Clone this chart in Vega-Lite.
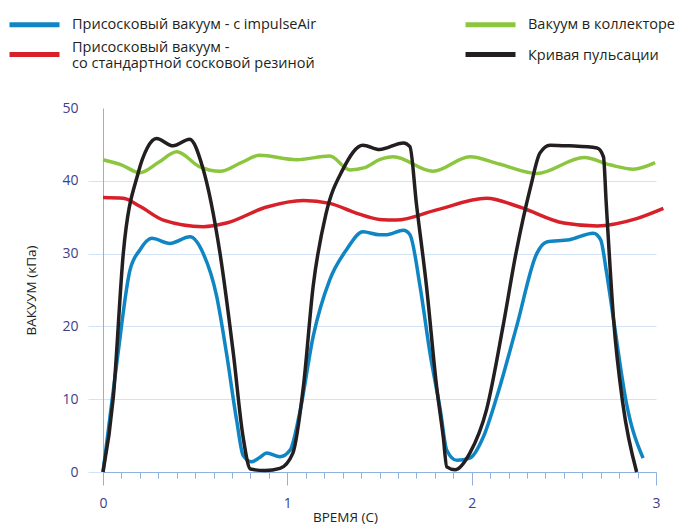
{
  "$schema": "https://vega.github.io/schema/vega-lite/v6.json",
  "autosize": {"type": "none"},
  "width": 553,
  "height": 364,
  "padding": {"left": 103, "top": 108, "right": 29, "bottom": 54},
  "background": "white",
  "config": {
    "view": {"stroke": null},
    "font": "Open Sans"
  },
  "data": {
    "values": [
      {"series": "Вакуум в коллекторе", "t": 0, "v": 42.9},
      {"series": "Вакуум в коллекторе", "t": 0.1, "v": 42.2},
      {"series": "Вакуум в коллекторе", "t": 0.2, "v": 41.1},
      {"series": "Вакуум в коллекторе", "t": 0.3, "v": 42.5},
      {"series": "Вакуум в коллекторе", "t": 0.4, "v": 44.0},
      {"series": "Вакуум в коллекторе", "t": 0.526, "v": 41.9},
      {"series": "Вакуум в коллекторе", "t": 0.635, "v": 41.3},
      {"series": "Вакуум в коллекторе", "t": 0.75, "v": 42.5},
      {"series": "Вакуум в коллекторе", "t": 0.85, "v": 43.5},
      {"series": "Вакуум в коллекторе", "t": 1.05, "v": 42.9},
      {"series": "Вакуум в коллекторе", "t": 1.23, "v": 43.4},
      {"series": "Вакуум в коллекторе", "t": 1.34, "v": 41.5},
      {"series": "Вакуум в коллекторе", "t": 1.42, "v": 41.8},
      {"series": "Вакуум в коллекторе", "t": 1.5, "v": 42.9},
      {"series": "Вакуум в коллекторе", "t": 1.575, "v": 43.3},
      {"series": "Вакуум в коллекторе", "t": 1.79, "v": 41.3},
      {"series": "Вакуум в коллекторе", "t": 1.99, "v": 43.3},
      {"series": "Вакуум в коллекторе", "t": 2.15, "v": 42.3},
      {"series": "Вакуум в коллекторе", "t": 2.353, "v": 41.0},
      {"series": "Вакуум в коллекторе", "t": 2.61, "v": 43.2},
      {"series": "Вакуум в коллекторе", "t": 2.75, "v": 42.2},
      {"series": "Вакуум в коллекторе", "t": 2.877, "v": 41.6},
      {"series": "Вакуум в коллекторе", "t": 2.995, "v": 42.5},

      {"series": "Присосковый вакуум - со стандартной сосковой резиной", "t": 0, "v": 37.7},
      {"series": "Присосковый вакуум - со стандартной сосковой резиной", "t": 0.11, "v": 37.6},
      {"series": "Присосковый вакуум - со стандартной сосковой резиной", "t": 0.2, "v": 36.5},
      {"series": "Присосковый вакуум - со стандартной сосковой резиной", "t": 0.327, "v": 34.6},
      {"series": "Присосковый вакуум - со стандартной сосковой резиной", "t": 0.544, "v": 33.7},
      {"series": "Присосковый вакуум - со стандартной сосковой резиной", "t": 0.67, "v": 34.2},
      {"series": "Присосковый вакуум - со стандартной сосковой резиной", "t": 0.888, "v": 36.4},
      {"series": "Присосковый вакуум - со стандартной сосковой резиной", "t": 1.087, "v": 37.3},
      {"series": "Присосковый вакуум - со стандартной сосковой резиной", "t": 1.23, "v": 36.9},
      {"series": "Присосковый вакуум - со стандартной сосковой резиной", "t": 1.37, "v": 35.6},
      {"series": "Присосковый вакуум - со стандартной сосковой резиной", "t": 1.5, "v": 34.7},
      {"series": "Присосковый вакуум - со стандартной сосковой резиной", "t": 1.59, "v": 34.6},
      {"series": "Присосковый вакуум - со стандартной сосковой резиной", "t": 1.81, "v": 36.0},
      {"series": "Присосковый вакуум - со стандартной сосковой резиной", "t": 2.08, "v": 37.6},
      {"series": "Присосковый вакуум - со стандартной сосковой резиной", "t": 2.26, "v": 36.4},
      {"series": "Присосковый вакуум - со стандартной сосковой резиной", "t": 2.5, "v": 34.2},
      {"series": "Присосковый вакуум - со стандартной сосковой резиной", "t": 2.68, "v": 33.8},
      {"series": "Присосковый вакуум - со стандартной сосковой резиной", "t": 2.895, "v": 34.8},
      {"series": "Присосковый вакуум - со стандартной сосковой резиной", "t": 3.04, "v": 36.2},

      {"series": "Присосковый вакуум - с impulseAir", "t": 0, "v": 0},
      {"series": "Присосковый вакуум - с impulseAir", "t": 0.04, "v": 8},
      {"series": "Присосковый вакуум - с impulseAir", "t": 0.08, "v": 16},
      {"series": "Присосковый вакуум - с impulseAir", "t": 0.146, "v": 27.7},
      {"series": "Присосковый вакуум - с impulseAir", "t": 0.2, "v": 30.5},
      {"series": "Присосковый вакуум - с impulseAir", "t": 0.264, "v": 32.1},
      {"series": "Присосковый вакуум - с impulseAir", "t": 0.363, "v": 31.4},
      {"series": "Присосковый вакуум - с impulseAir", "t": 0.472, "v": 32.3},
      {"series": "Присосковый вакуум - с impulseAir", "t": 0.544, "v": 30},
      {"series": "Присосковый вакуум - с impulseAir", "t": 0.617, "v": 24.1},
      {"series": "Присосковый вакуум - с impulseAir", "t": 0.67, "v": 16.3},
      {"series": "Присосковый вакуум - с impulseAir", "t": 0.725, "v": 7.1},
      {"series": "Присосковый вакуум - с impulseAir", "t": 0.76, "v": 2.3},
      {"series": "Присосковый вакуум - с impulseAir", "t": 0.806, "v": 1.4},
      {"series": "Присосковый вакуум - с impulseAir", "t": 0.85, "v": 2.0},
      {"series": "Присосковый вакуум - с impulseAir", "t": 0.888, "v": 2.6},
      {"series": "Присосковый вакуум - с impulseAir", "t": 0.96, "v": 2.1},
      {"series": "Присосковый вакуум - с impulseAir", "t": 1.015, "v": 3.0},
      {"series": "Присосковый вакуум - с impulseAir", "t": 1.07, "v": 8.5},
      {"series": "Присосковый вакуум - с impulseAir", "t": 1.14, "v": 18.6},
      {"series": "Присосковый вакуум - с impulseAir", "t": 1.23, "v": 26.4},
      {"series": "Присосковый вакуум - с impulseAir", "t": 1.32, "v": 30.5},
      {"series": "Присосковый вакуум - с impulseAir", "t": 1.41, "v": 33.0},
      {"series": "Присосковый вакуум - с impulseAir", "t": 1.5, "v": 32.6},
      {"series": "Присосковый вакуум - с impulseAir", "t": 1.54, "v": 32.6},
      {"series": "Присосковый вакуум - с impulseAir", "t": 1.63, "v": 33.2},
      {"series": "Присосковый вакуум - с impulseAir", "t": 1.665, "v": 32.6},
      {"series": "Присосковый вакуум - с impulseAir", "t": 1.72, "v": 25.5},
      {"series": "Присосковый вакуум - с impulseAir", "t": 1.774, "v": 16.3},
      {"series": "Присосковый вакуум - с impulseAir", "t": 1.83, "v": 8.5},
      {"series": "Присосковый вакуум - с impulseAir", "t": 1.865, "v": 3.0},
      {"series": "Присосковый вакуум - с impulseAir", "t": 1.92, "v": 1.6},
      {"series": "Присосковый вакуум - с impulseAir", "t": 1.99, "v": 1.9},
      {"series": "Присосковый вакуум - с impulseAir", "t": 2.063, "v": 4.8},
      {"series": "Присосковый вакуум - с impulseAir", "t": 2.136, "v": 10.3},
      {"series": "Присосковый вакуум - с impulseAir", "t": 2.244, "v": 20},
      {"series": "Присосковый вакуум - с impulseAir", "t": 2.353, "v": 30},
      {"series": "Присосковый вакуум - с impulseAir", "t": 2.407, "v": 31.6},
      {"series": "Присосковый вакуум - с impulseAir", "t": 2.53, "v": 31.9},
      {"series": "Присосковый вакуум - с impulseAir", "t": 2.66, "v": 32.8},
      {"series": "Присосковый вакуум - с impulseAir", "t": 2.7, "v": 31.9},
      {"series": "Присосковый вакуум - с impulseAir", "t": 2.73, "v": 27.7},
      {"series": "Присосковый вакуум - с impulseAir", "t": 2.77, "v": 20.9},
      {"series": "Присосковый вакуум - с impulseAir", "t": 2.84, "v": 9.4},
      {"series": "Присосковый вакуум - с impulseAir", "t": 2.93, "v": 1.9},

      {"series": "Кривая пульсации", "t": 0, "v": 0},
      {"series": "Кривая пульсации", "t": 0.056, "v": 10.3},
      {"series": "Кривая пульсации", "t": 0.11, "v": 30},
      {"series": "Кривая пульсации", "t": 0.19, "v": 41},
      {"series": "Кривая пульсации", "t": 0.24, "v": 44.5},
      {"series": "Кривая пульсации", "t": 0.29, "v": 45.8},
      {"series": "Кривая пульсации", "t": 0.38, "v": 44.8},
      {"series": "Кривая пульсации", "t": 0.47, "v": 45.7},
      {"series": "Кривая пульсации", "t": 0.54, "v": 41.9},
      {"series": "Кривая пульсации", "t": 0.635, "v": 30},
      {"series": "Кривая пульсации", "t": 0.707, "v": 16.3},
      {"series": "Кривая пульсации", "t": 0.76, "v": 4.8},
      {"series": "Кривая пульсации", "t": 0.8, "v": 0.4},
      {"series": "Кривая пульсации", "t": 0.88, "v": 0.2},
      {"series": "Кривая пульсации", "t": 0.96, "v": 0.5},
      {"series": "Кривая пульсации", "t": 1.03, "v": 2.6},
      {"series": "Кривая пульсации", "t": 1.087, "v": 11.7},
      {"series": "Кривая пульсации", "t": 1.14, "v": 25.5},
      {"series": "Кривая пульсации", "t": 1.21, "v": 35.5},
      {"series": "Кривая пульсации", "t": 1.3, "v": 41.5},
      {"series": "Кривая пульсации", "t": 1.41, "v": 44.9},
      {"series": "Кривая пульсации", "t": 1.5, "v": 44.3},
      {"series": "Кривая пульсации", "t": 1.63, "v": 45.2},
      {"series": "Кривая пульсации", "t": 1.665, "v": 44.7},
      {"series": "Кривая пульсации", "t": 1.7, "v": 36.9},
      {"series": "Кривая пульсации", "t": 1.755, "v": 25.5},
      {"series": "Кривая пульсации", "t": 1.81, "v": 11.7},
      {"series": "Кривая пульсации", "t": 1.846, "v": 4.8},
      {"series": "Кривая пульсации", "t": 1.865, "v": 0.7},
      {"series": "Кривая пульсации", "t": 1.91, "v": 0.3},
      {"series": "Кривая пульсации", "t": 1.99, "v": 2.6},
      {"series": "Кривая пульсации", "t": 2.08, "v": 8.5},
      {"series": "Кривая пульсации", "t": 2.17, "v": 20},
      {"series": "Кривая пульсации", "t": 2.24, "v": 30},
      {"series": "Кривая пульсации", "t": 2.32, "v": 39.2},
      {"series": "Кривая пульсации", "t": 2.37, "v": 43.8},
      {"series": "Кривая пульсации", "t": 2.425, "v": 44.9},
      {"series": "Кривая пульсации", "t": 2.53, "v": 44.8},
      {"series": "Кривая пульсации", "t": 2.68, "v": 44.5},
      {"series": "Кривая пульсации", "t": 2.715, "v": 43.3},
      {"series": "Кривая пульсации", "t": 2.73, "v": 36.9},
      {"series": "Кривая пульсации", "t": 2.77, "v": 20.9},
      {"series": "Кривая пульсации", "t": 2.82, "v": 9.4},
      {"series": "Кривая пульсации", "t": 2.895, "v": 0}
    ]
  },
  "mark": {"type": "line", "interpolate": "monotone", "strokeWidth": 3.5, "clip": false},
  "encoding": {
    "x": {
      "field": "t", "type": "quantitative",
      "scale": {"domain": [0, 3], "nice": false},
      "axis": {
        "values": [0,0.1,0.2,0.3,0.4,0.5,0.6,0.7,0.8,0.9,1,1.1,1.2,1.3,1.4,1.5,1.6,1.7,1.8,1.9,2,2.1,2.2,2.3,2.4,2.5,2.6,2.7,2.8,2.9,3],
        "labelExpr": "abs(datum.value - round(datum.value)) < 0.001 ? format(datum.value, 'd') : ''",
        "labelOverlap": false,
        "labelFlush": false,
        "tickSize": {"condition": {"test": "abs(datum.value - round(datum.value)) < 0.001", "value": 13}, "value": 6},
        "tickColor": "#8fb1e0",
        "domainColor": "#8fb1e0",
        "grid": false,
        "labelColor": "#3c3e8e",
        "labelFontSize": 14,
        "labelPadding": 11,
        "title": "ВРЕМЯ (С)",
        "titleFontSize": 13.5,
        "titleFontWeight": "normal",
        "titleColor": "#231f20",
        "titleX": 242,
        "titlePadding": 0
      }
    },
    "y": {
      "field": "v", "type": "quantitative",
      "scale": {"domain": [0, 50], "nice": false},
      "axis": {
        "values": [0, 10, 20, 30, 40, 50],
        "grid": true,
        "gridColor": "#d3e2f4",
        "gridOpacity": {"condition": {"test": "datum.value == 50", "value": 0}, "value": 1},
        "tickColor": "#d3e2f4",
        "tickOpacity": {"condition": {"test": "datum.value == 50", "value": 0}, "value": 1},
        "tickSize": 15,
        "domainColor": "#8fb1e0",
        "labelColor": "#3c3e8e",
        "labelFontSize": 14,
        "labelPadding": 10,
        "title": "ВАКУУМ (кПа)",
        "titleFontSize": 13.5,
        "titleFontWeight": "normal",
        "titleColor": "#231f20",
        "titlePadding": 23
      }
    },
    "color": {
      "field": "series", "type": "nominal",
      "scale": {
        "domain": ["Присосковый вакуум - с impulseAir", "Присосковый вакуум - со стандартной сосковой резиной", "Вакуум в коллекторе", "Кривая пульсации"],
        "range": ["#0f86c3", "#d7202a", "#8cc63f", "#231f20"]
      },
      "legend": {
        "orient": "none",
        "legendX": -96,
        "legendY": -111,
        "direction": "vertical",
        "columns": 2,
        "columnPadding": 138,
        "rowPadding": 0,
        "title": null,
        "symbolType": "stroke",
        "symbolSize": 2500,
        "symbolStrokeWidth": 5,
        "labelFontSize": 14.5,
        "labelColor": "#231f20",
        "labelOffset": 10,
        "labelLimit": 400,
        "labelExpr": "datum.label == 'Присосковый вакуум - со стандартной сосковой резиной' ? ['Присосковый вакуум -', 'со стандартной сосковой резиной'] : datum.label",
        "encoding": {
          "labels": {
            "dy": {
              "condition": [
                {"test": "datum.value == 'Присосковый вакуум - со стандартной сосковой резиной'", "value": -15},
                {"test": "datum.value == 'Кривая пульсации'", "value": -7}
              ],
              "value": 0
            }
          },
          "symbols": {
            "shape": {
              "condition": {"test": "datum.value == 'Присосковый вакуум - со стандартной сосковой резиной' || datum.value == 'Кривая пульсации'", "value": "M-1,-0.32H1"},
              "value": "M-1,0H1"
            }
          }
        }
      }
    }
  }
}
